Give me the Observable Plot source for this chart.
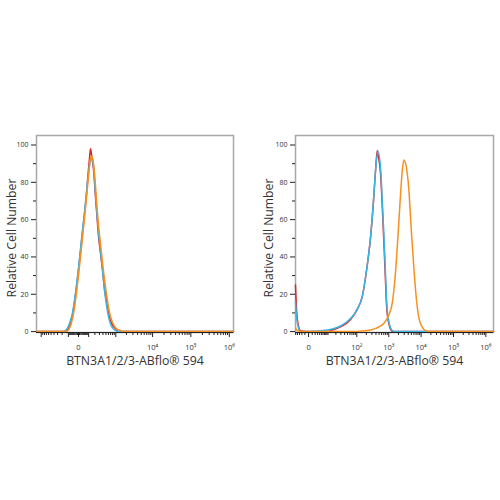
<!DOCTYPE html>
<html><head><meta charset="utf-8">
<script src="https://cdn.jsdelivr.net/npm/d3@7"></script>
<script src="https://cdn.jsdelivr.net/npm/@observablehq/plot@0.6"></script>
<style>
body{margin:0;background:#fff;width:500px;height:500px;overflow:hidden;font-family:"Open Sans",sans-serif}
#left,#right{position:absolute;top:125px}
#left{left:0}#right{left:250px}
</style></head><body>
<div id="left"></div><div id="right"></div>
<script>
// ---- data (fluorescence intensity, relative count) ----
const xLabel = "BTN3A1/2/3-ABflo® 594";
const yLabel = "Relative Cell Number";
const yTicks = [0, 20, 40, 60, 80, 100];
const yMinorTicks = [10, 30, 50, 70, 90];

const leftRed = [[-1364,0],[-141,0],[-98,2],[-74,5],[-52,9],[-32,16],[-15,24],[0,33],[15,43],[32,53],[52,63],[74,74],[98,87],[112,93],[126,98],[141,95],[157,91],[175,87],[212,72],[233,65],[278,51],[328,42],[385,33],[449,23],[522,16],[603,10],[695,6],[799,3.5],[980,1.5],[1196,0],[1286000,0]];
const leftCyan = [[-1364,0],[-175,0],[-141,0.5],[-98,3],[-74,6],[-52,10],[-32,17],[-15,25],[0,34],[15,44],[32,54],[52,64],[74,75],[98,85],[112,89],[126,92],[141,93],[157,92],[175,88],[212,74],[233,66],[278,53],[328,43],[385,33],[449,22],[522,14],[603,8],[695,4],[799,2],[980,0.5],[1196,0],[1286000,0]];
const leftOrange = [[-1364,0],[-141,0],[-98,1],[-74,3],[-52,7],[-32,13],[-15,21],[0,30],[15,40],[32,50],[52,61],[74,72],[98,83],[112,89],[126,93],[141,94],[157,93],[175,90],[212,78],[233,70],[278,57],[328,47],[385,37],[449,28],[522,20],[603,13],[695,8],[799,5],[980,2],[1196,1],[1456,0.3],[1882,0],[1286000,0]];

const rightRed = [[-5.1,25],[-4.5,12],[-3.5,3],[-2.56,0.5],[0.5,0],[9,0],[15,0.8],[29,2.5],[63,6.5],[104,12],[150,19],[204,33],[273,51],[332,69],[391,87],[440,97],[462,95],[560,84],[633,66],[709,47],[784,29],[861,13],[1014,4],[1294,0],[1720000,0]];
const rightCyan = [[-5.1,16],[-4.5,8],[-3.5,2],[-2.56,0],[0.5,0],[9.3,0.8],[29,3],[63,7],[104,12],[150,19],[204,33],[273,51],[332,69],[391,87],[462,96.5],[560,87],[633,69],[709,51],[784,33],[861,15.7],[1014,5],[1294,0.5],[1640,0],[1720000,0]];
const rightOrange = [[-5.1,2],[-4.5,1],[-3.5,0.3],[-2.56,0],[63,0],[150,0.3],[273,0.8],[391,1.7],[709,4.5],[1014,9],[1294,15.7],[1638,33],[1929,51],[2225,69],[2641,87],[2961,92],[3589,87],[4226,75],[4441,69],[5120,51],[6036,33],[7312,15.7],[9252,5],[13890,0.5],[20000,0],[1720000,0]];

const leftLabeled = [0, 10000, 100000, 1000000];
const leftLabels = ["0", "10⁴", "10⁵", "10⁶"];
const leftUnlabeled = [-1000, -100, 100, 1000];
const rightLabeled = [0, 100, 1000, 10000, 100000, 1000000];
const rightLabels = ["0", "10²", "10³", "10⁴", "10⁵", "10⁶"];
const rightUnlabeled = [];

const colors = {red: "#e42127", cyan: "#37b6e6", orange: "#f7901e"};

function minorTicks(domain, majors) {
  const out = [];
  for (let k = 0; k <= 6; k++) for (let m = 1; m <= 9; m++) {
    const v = m * Math.pow(10, k);
    for (const s of [v, -v]) if (s >= domain[0] && s <= domain[1] && !majors.includes(s)) out.push(s);
  }
  return out;
}

function panel(el, {series, domain, constant, labeled, labels, unlabeled, marginLeft, marginRight, ylabDx}) {
  const toObj = a => a.map(([x, y]) => ({x, y}));
  const fontFamily = '"Open Sans", sans-serif';
  const marks = [
    Plot.frame({stroke: "#a8a8a8", strokeWidth: 1.5}),
    ...series.map(([d, c]) => Plot.line(toObj(d), {x: "x", y: "y", stroke: colors[c], strokeWidth: 1.5, curve: "monotone-x"})),
    Plot.ruleY([-0.5], {stroke: "#222", strokeWidth: 1.2}),
    Plot.axisY({ticks: yTicks, tickSize: 5, tickPadding: 3, fontSize: 7, label: null, stroke: "#222", fill: "#333"}),
    Plot.axisY({ticks: yMinorTicks, tickSize: 3, label: null, stroke: "#222", fill: "none"}),
    Plot.axisX({ticks: labeled, tickSize: 5, tickPadding: 7, fontSize: 7.5, label: null, stroke: "#222", fill: "#333",
      tickFormat: d => labels[labeled.indexOf(d)]}),
    ...(unlabeled.length ? [Plot.axisX({ticks: unlabeled, tickSize: 5, label: null, stroke: "#222", fill: "none"})] : []),
    Plot.axisX({ticks: minorTicks(domain, labeled.concat(unlabeled)), tickSize: 3, label: null, stroke: "#222", fill: "none"}),
    Plot.text([xLabel], {text: d => d, frameAnchor: "bottom", dy: 29, lineAnchor: "middle", textAnchor: "middle", fontSize: 12.3, fill: "#333", fontFamily}),
    Plot.text([yLabel], {text: d => d, frameAnchor: "left", rotate: -90, dx: ylabDx, dy: 4, lineAnchor: "middle", textAnchor: "middle", fontSize: 12.2, fill: "#333", fontFamily})
  ];
  const chart = Plot.plot({
    width: 250, height: 250,
    marginTop: 10, marginBottom: 43, marginLeft, marginRight,
    style: {fontFamily, background: "transparent", overflow: "visible"},
    x: {type: "symlog", constant, domain},
    y: {domain: [-0.5, 105.1]},
    marks
  });
  el.appendChild(chart);
}

panel(document.getElementById("left"), {
  series: [[leftRed, "red"], [leftCyan, "cyan"], [leftOrange, "orange"]],
  domain: [-1364, 1286000], constant: 120, labeled: leftLabeled, labels: leftLabels, unlabeled: leftUnlabeled,
  marginLeft: 36, marginRight: 17, ylabDx: -24
});
panel(document.getElementById("right"), {
  series: [[rightRed, "red"], [rightCyan, "cyan"], [rightOrange, "orange"]],
  domain: [-5.1, 1720000], constant: 3.34, labeled: rightLabeled, labels: rightLabels, unlabeled: rightUnlabeled,
  marginLeft: 45, marginRight: 7, ylabDx: -26
});
</script></body></html>
